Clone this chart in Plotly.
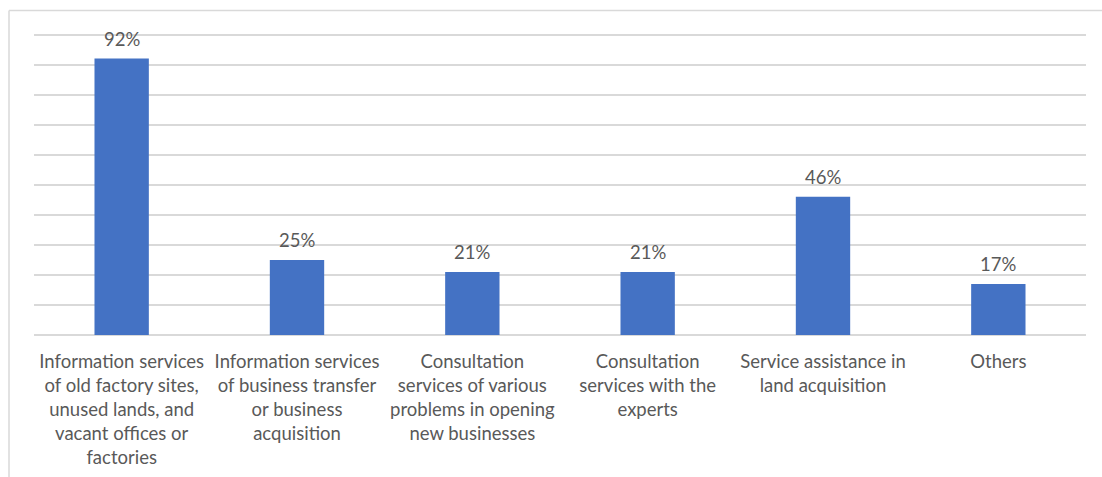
import plotly.graph_objects as go

categories = [
    "Information services<br>of old factory sites,<br>unused lands, and<br>vacant offices or<br>factories",
    "Information services<br>of business transfer<br>or business<br>acquisition",
    "Consultation<br>services of various<br>problems in opening<br>new businesses",
    "Consultation<br>services with the<br>experts",
    "Service assistance in<br>land acquisition",
    "Others",
]
values = [92, 25, 21, 21, 46, 17]
value_labels = [f"{v}%" for v in values]

BAR = "#4472C4"
GRID = "#D9D9D9"
TEXT = "#595959"
FONT = "Lato, 'Open Sans', sans-serif"
FS = 18.5

fig = go.Figure(
    go.Bar(
        x=categories,
        y=values,
        marker=dict(color=BAR, line=dict(width=0)),
        hoverinfo="x+y",
    )
)

# value labels above each bar
for c, v, t in zip(categories, values, value_labels):
    fig.add_annotation(
        x=c, y=v, text=t, showarrow=False, yanchor="bottom", yshift=7,
        font=dict(color=TEXT, size=FS, family=FONT),
    )

W, H = 1102, 477
L, R, T, B = 34, 16, 33, 141.5
pw, ph = W - L - R, H - T - B
YMAX = 100.5

# outer chart frame (top and left edges)
fx = (9 - L) / pw
fy = 1 + (T - 10.5) / ph
fig.add_shape(type="line", xref="paper", yref="paper", x0=fx, x1=1.2, y0=fy, y1=fy,
              line=dict(color=GRID, width=1.5))
fig.add_shape(type="line", xref="paper", yref="paper", x0=fx, x1=fx, y0=fy, y1=-0.6,
              line=dict(color=GRID, width=1.5))

fig.update_layout(
    width=W,
    height=H,
    margin=dict(l=L, r=R, t=T, b=B, autoexpand=False),
    paper_bgcolor="white",
    plot_bgcolor="white",
    bargap=0.69,
    showlegend=False,
    font=dict(family=FONT, color=TEXT, size=FS),
    xaxis=dict(
        automargin=False,
        showgrid=False,
        showline=False,
        ticks="",
        ticklabelstandoff=13,
        tickfont=dict(size=FS, color=TEXT, family=FONT),
    ),
    yaxis=dict(
        automargin=False,
        range=[0, YMAX],
        dtick=10,
        showticklabels=False,
        showgrid=True,
        gridcolor=GRID,
        gridwidth=1.5,
        zeroline=True,
        zerolinecolor=GRID,
        zerolinewidth=1.5,
        ticks="",
    ),
)

fig.write_html("out.html")
